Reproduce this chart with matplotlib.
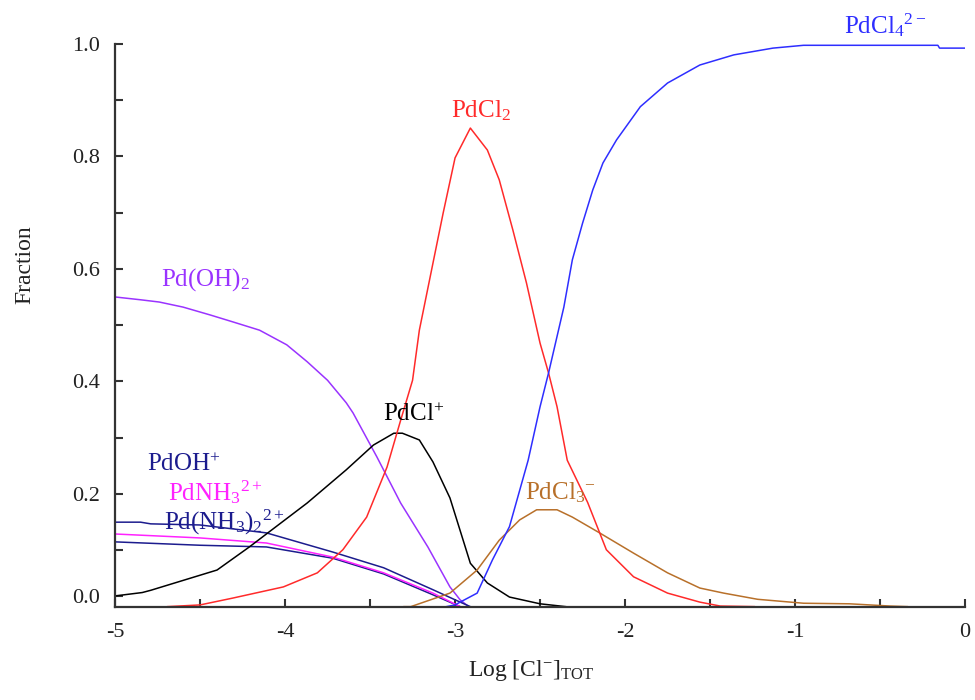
import matplotlib
matplotlib.use("Agg")
import matplotlib.pyplot as plt
from matplotlib.ticker import MultipleLocator, FixedLocator

plt.rcParams["font.family"] = ["Liberation Serif", "DejaVu Serif"]
plt.rcParams["mathtext.fontset"] = "custom"
plt.rcParams["mathtext.rm"] = "Liberation Serif"
plt.rcParams["mathtext.it"] = "Liberation Serif:italic"
plt.rcParams["mathtext.bf"] = "Liberation Serif:bold"

# ── data: log[Cl-]_TOT vs fraction ───────────────────────────────────────
pdcl4_x = [-3.05, -3.0, -2.97, -2.87, -2.78, -2.68, -2.57, -2.50, -2.45, -2.36, -2.31,
           -2.25, -2.19, -2.13, -2.05, -1.91, -1.75, -1.56, -1.36, -1.13, -0.95,
           -0.5, -0.16, -0.15, 0.0]
pdcl4_y = [0.0, 0.003, 0.008, 0.024, 0.083, 0.142, 0.26, 0.355, 0.415, 0.532, 0.616,
           0.681, 0.74, 0.788, 0.829, 0.888, 0.93, 0.962, 0.98, 0.992, 0.997,
           0.997, 0.997, 0.992, 0.992]

pdcl2_x = [-4.69, -4.50, -4.31, -4.01, -3.81, -3.66, -3.52, -3.40, -3.32, -3.25,
           -3.21, -3.13, -3.07, -3.0, -2.91, -2.81, -2.74, -2.66, -2.58, -2.50,
           -2.45, -2.40, -2.34, -2.22, -2.11, -1.95, -1.75, -1.56, -1.44, -1.24]
pdcl2_y = [0.0, 0.003, 0.015, 0.035, 0.06, 0.101, 0.159, 0.248, 0.331, 0.402,
           0.491, 0.61, 0.699, 0.797, 0.85, 0.811, 0.758, 0.669, 0.575, 0.468,
           0.415, 0.355, 0.26, 0.185, 0.101, 0.053, 0.024, 0.008, 0.001, 0.0]

pdcl_x = [-5.0, -4.84, -4.79, -4.40, -4.21, -3.87, -3.64, -3.48, -3.36, -3.31,
          -3.21, -3.13, -3.03, -2.91, -2.81, -2.68, -2.50, -2.35]
pdcl_y = [0.019, 0.025, 0.029, 0.065, 0.106, 0.184, 0.243, 0.287, 0.308, 0.308,
          0.296, 0.257, 0.193, 0.077, 0.042, 0.017, 0.005, 0.0]

pdoh2_x = [-5.0, -4.85, -4.74, -4.60, -4.44, -4.31, -4.15, -3.99, -3.87, -3.75,
           -3.64, -3.60, -3.46, -3.32, -3.16, -3.03, -2.97, -2.92]
pdoh2_y = [0.55, 0.545, 0.541, 0.532, 0.518, 0.506, 0.491, 0.465, 0.435, 0.402,
           0.362, 0.344, 0.266, 0.184, 0.106, 0.035, 0.012, 0.0]

pdoh_x = [-5.0, -4.85, -4.79, -4.50, -4.11, -3.72, -3.42, -3.13, -2.97, -2.91]
pdoh_y = [0.150, 0.150, 0.147, 0.145, 0.131, 0.097, 0.069, 0.030, 0.008, 0.0]

pdnh3_x = [-5.0, -4.50, -4.11, -3.72, -3.42, -3.13, -2.97]
pdnh3_y = [0.129, 0.122, 0.113, 0.088, 0.060, 0.024, 0.0]

pdnh32_x = [-5.0, -4.50, -4.11, -3.72, -3.42, -3.13, -2.97]
pdnh32_y = [0.115, 0.109, 0.106, 0.086, 0.058, 0.021, 0.0]

pdcl3_x = [-3.30, -3.26, -3.03, -2.87, -2.74, -2.62, -2.52, -2.40, -2.31, -2.15,
           -1.95, -1.75, -1.56, -1.42, -1.22, -0.95, -0.68, -0.44, -0.34]
pdcl3_y = [0.0, 0.0, 0.024, 0.065, 0.118, 0.154, 0.172, 0.172, 0.159, 0.131,
           0.095, 0.06, 0.033, 0.024, 0.013, 0.006, 0.005, 0.001, 0.0]

# ── colours ──────────────────────────────────────────────────────────────
BLUE, RED, PURPLE = "#2e2eff", "#ff2a2a", "#9a33ff"
NAVY, MAGENTA, BROWN, AXIS = "#1c1c8e", "#ff22ff", "#b8702a", "#333333"
TXT = "#222222"

fig = plt.figure(figsize=(9.75, 7.0), dpi=100)
ax = fig.add_axes([0.118, 0.1334, 0.8718, 0.8043])

lw = 1.1
ax.plot(pdoh2_x, pdoh2_y, color=PURPLE, lw=lw)
ax.plot(pdnh32_x, pdnh32_y, color=NAVY, lw=lw)
ax.plot(pdnh3_x, pdnh3_y, color=MAGENTA, lw=lw)
ax.plot(pdoh_x, pdoh_y, color=NAVY, lw=lw)
ax.plot(pdcl_x, pdcl_y, color="black", lw=lw)
ax.plot(pdcl3_x, pdcl3_y, color=BROWN, lw=lw)
ax.plot(pdcl2_x, pdcl2_y, color=RED, lw=lw)
ax.plot(pdcl4_x, pdcl4_y, color=BLUE, lw=lw)

# species labels (centred where the original ones sit)
fs = 18
lab = dict(fontsize=fs, ha="center", va="baseline")
ax.text(-0.47, 1.019, r"PdCl$_4$$^{2-}$", color=BLUE, clip_on=False, **lab)
ax.text(-2.845, 0.869, r"PdCl$_2$", color=RED, **lab)
ax.text(-4.47, 0.571, r"Pd(OH)$_2$", color=PURPLE, **lab)
ax.text(-3.244, 0.330, r"PdCl$^{+}$", color="black", **lab)
ax.text(-4.594, 0.241, r"PdOH$^{+}$", color=NAVY, **lab)
ax.text(-4.412, 0.189, r"PdNH$_3$$^{2+}$", color=MAGENTA, **lab)
ax.text(-4.356, 0.136, r"Pd(NH$_3$)$_2$$^{2+}$", color=NAVY, **lab)
ax.text(-2.382, 0.191, r"PdCl$_3$$^{-}$", color=BROWN, **lab)

# axes cosmetics
ax.set_xlim(-5, 0)
ax.set_ylim(0, 1.0)
ax.spines["top"].set_visible(False)
ax.spines["right"].set_visible(False)
for s in ("left", "bottom"):
    ax.spines[s].set_color(AXIS)
    ax.spines[s].set_linewidth(1.6)

ax.set_xticks([-5, -4, -3, -2, -1, 0], ["-5", "-4", "-3", "-2", "-1", "0"])
ax.xaxis.set_minor_locator(MultipleLocator(0.5))
# the original's "0.0" tick sits a little above the axis line
ax.yaxis.set_major_locator(FixedLocator([0.019, 0.2, 0.4, 0.6, 0.8, 1.0]))
ax.set_yticklabels(["0.0", "0.2", "0.4", "0.6", "0.8", "1.0"])
ax.yaxis.set_minor_locator(FixedLocator([0.1, 0.3, 0.5, 0.7, 0.9]))
ax.tick_params(which="both", direction="in", length=6, width=1.5, color=AXIS,
               labelsize=16, labelcolor=TXT)
ax.tick_params(axis="x", pad=12)
ax.tick_params(axis="y", pad=11)

ax.set_xlabel(r"Log [Cl$^{-}$]$_{\mathrm{TOT}}$", fontsize=17, color=TXT)
ax.xaxis.set_label_coords(0.489, -0.092)
ax.set_ylabel("Fraction", fontsize=17, color=TXT)
ax.yaxis.set_label_coords(-0.094, 0.607)

fig.savefig("out.png", dpi=100)
